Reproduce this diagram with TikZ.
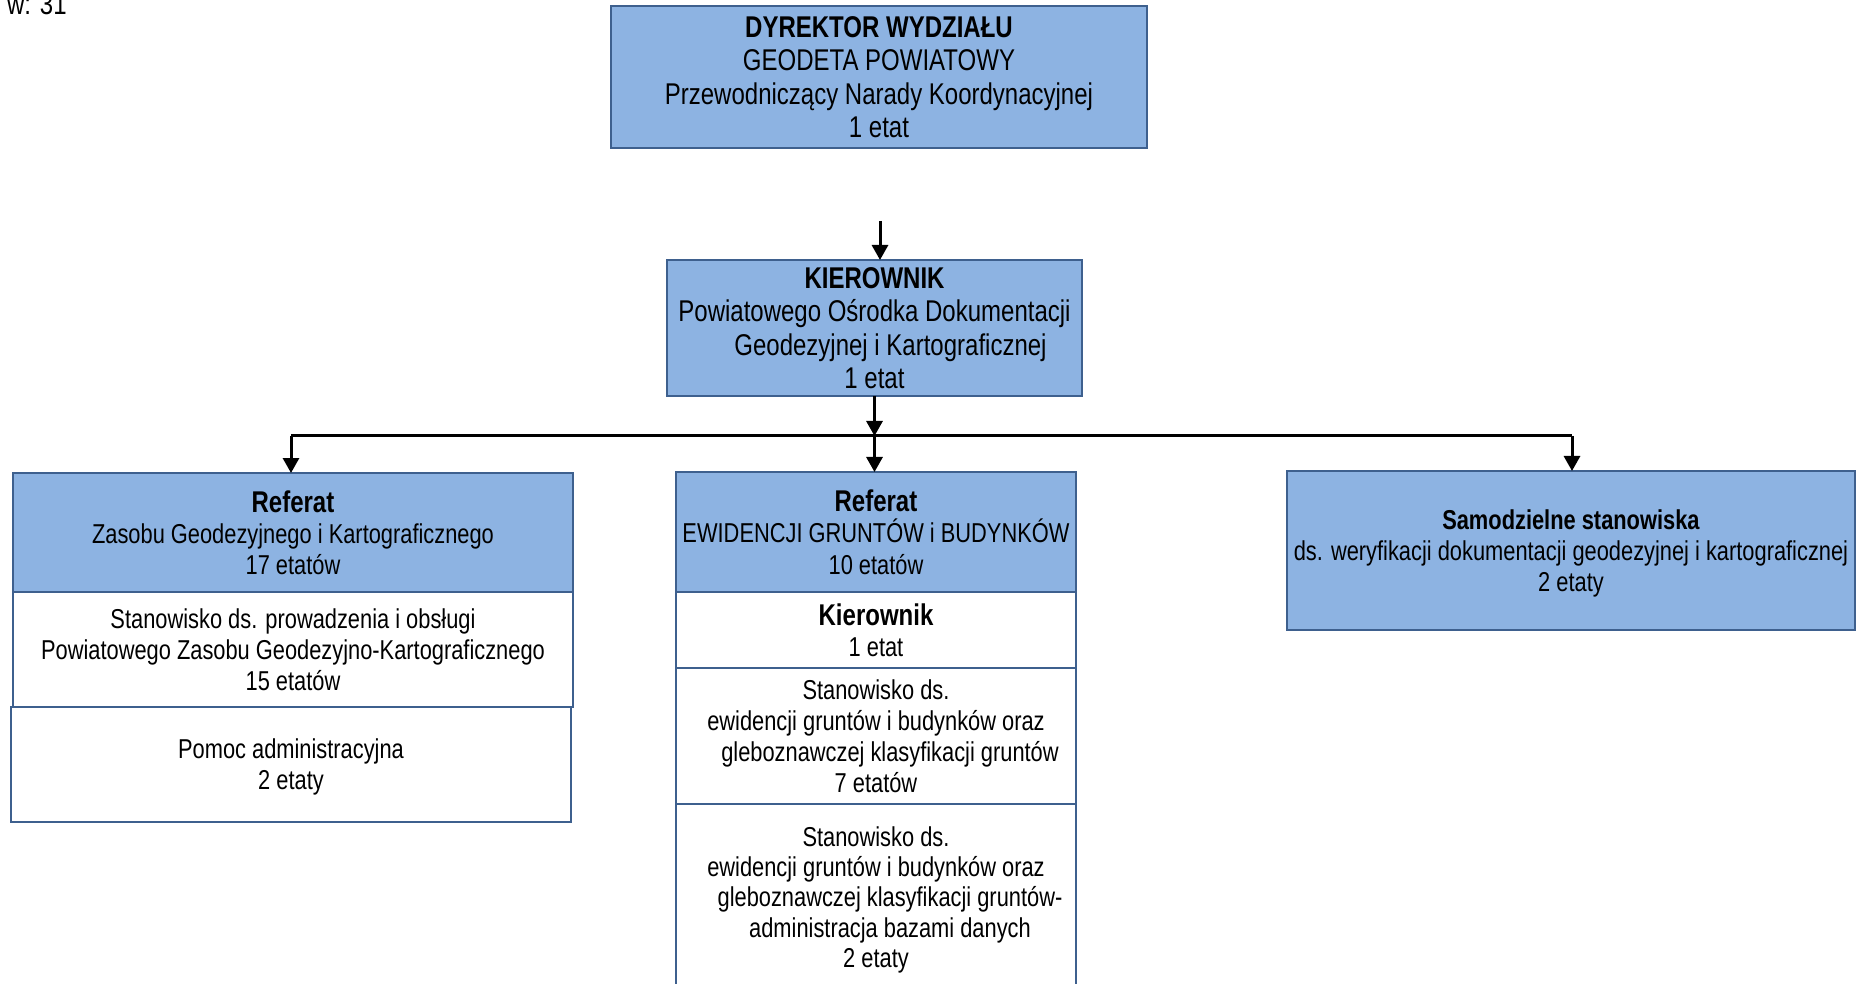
\documentclass[tikz,border=0pt]{standalone}
\usepackage{fontspec}
\setmainfont[FakeStretch=0.8]{Liberation Sans}
\usetikzlibrary{arrows.meta}

\definecolor{niebieski}{RGB}{141,179,226}
\definecolor{ramka}{RGB}{62,96,142}
\newcommand{\tytul}[1]{{\fontsize{15}{15.6}\selectfont\bfseries #1}}

\tikzset{
  komorka/.style={draw=ramka,line width=1.3pt,align=center,inner sep=0pt,outer sep=0pt,
    text depth=0pt,font=\fontsize{13.65}{15.6}\selectfont},
  naglowek/.style={komorka,fill=niebieski},
  pole/.style={komorka,fill=white,anchor=north},
  duzy/.style={font=\fontsize{15}{16.8}\selectfont},
  strz/.style={line width=1.5pt,-{Triangle[width=8pt,length=7.5pt]}}
}

\begin{document}
\begin{tikzpicture}[x=0.5pt,y=-0.5pt]
\useasboundingbox (0,0) rectangle (1865,984);
\node[anchor=base west,duzy] (razem) at (0,15) {w: 31};

\node[naglowek,duzy,minimum width=268pt,minimum height=71pt] (dyr) at (879,77)
  {\textbf{DYREKTOR WYDZIAŁU}\\GEODETA POWIATOWY\\Przewodniczący Narady Koordynacyjnej\\1 etat};
\node[naglowek,duzy,minimum width=207.5pt,minimum height=68pt] (kier) at (874.5,328)
  {\textbf{KIEROWNIK}\\Powiatowego Ośrodka Dokumentacji\\\hspace*{16pt}Geodezyjnej i Kartograficznej\\1 etat};

% referat zasobu
\node[naglowek,minimum width=280pt,minimum height=59.5pt] (zas) at (293,532.5)
  {\tytul{Referat}\\Zasobu Geodezyjnego i Kartograficznego\\17 etatów};
\node[pole,minimum width=280pt,minimum height=57.5pt] (zas1) at (zas.south)
  {Stanowisko ds. prowadzenia i obsługi\\Powiatowego Zasobu Geodezyjno-Kartograficznego\\15 etatów};
\node[pole,minimum width=280pt,minimum height=57.5pt] (zas2) at ([xshift=-1pt]zas1.south)
  {Pomoc administracyjna\\2 etaty};

% referat ewidencji
\node[naglowek,minimum width=200pt,minimum height=60pt] (ewid) at (876,532)
  {\tytul{Referat}\\EWIDENCJI GRUNTÓW i BUDYNKÓW\\10 etatów};
\node[pole,minimum width=200pt,minimum height=38pt] (ewid1) at (ewid.south)
  {\tytul{Kierownik}\\1 etat};
\node[pole,minimum width=200pt,minimum height=68pt] (ewid2) at (ewid1.south)
  {Stanowisko ds.\\ewidencji gruntów i budynków oraz\\\hspace*{14pt}gleboznawczej klasyfikacji gruntów\\7 etatów};
\node[pole,minimum width=200pt,minimum height=93pt,font=\fontsize{13.65}{15.2}\selectfont] (ewid3) at (ewid2.south)
  {Stanowisko ds.\\ewidencji gruntów i budynków oraz\\\hspace*{14pt}gleboznawczej klasyfikacji gruntów-\\\hspace*{14pt}administracja bazami danych\\2 etaty};

\node[naglowek,minimum width=284pt,minimum height=79.5pt] (sam) at (1571,550.5)
  {\textbf{Samodzielne stanowiska}\\ds. weryfikacji dokumentacji geodezyjnej i kartograficznej\\2 etaty};

\coordinate (g1) at (880,221);
\coordinate (lw) at (291,436);
\coordinate (pw) at (1572,436);
\draw[strz] (g1) -- (g1 |- kier.north);
\draw[line width=1.5pt] (lw) -- (pw);
\draw[strz] (lw) -- (lw |- zas.north);
\draw[strz] (pw) -- (pw |- sam.north);
\draw[strz] (kier.south) -- (kier.south |- lw);
\draw[strz] (kier.south |- lw) -- (kier.south |- ewid.north);
\end{tikzpicture}
\end{document}
